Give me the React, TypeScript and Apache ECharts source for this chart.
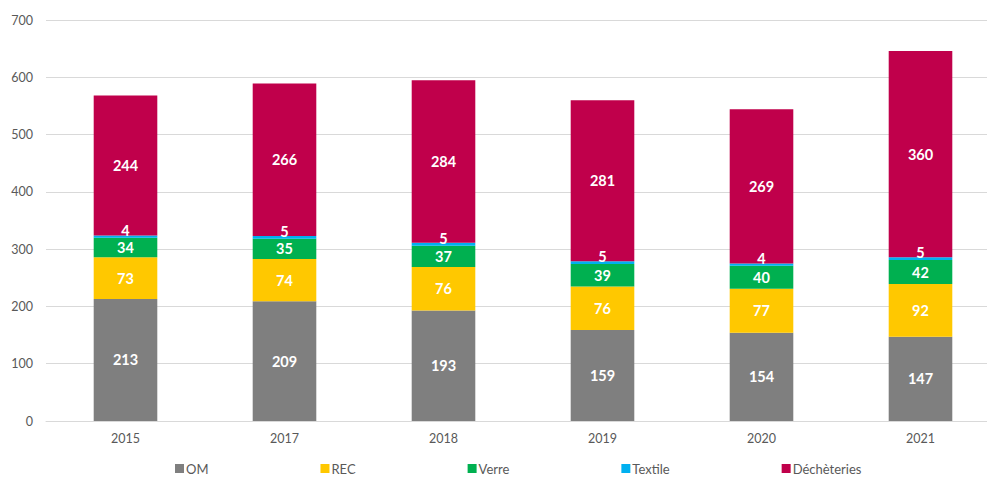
import React, { useEffect, useRef } from "react";
import * as echarts from "echarts";

const years = ["2015", "2017", "2018", "2019", "2020", "2021"];
const om = [213, 209, 193, 159, 154, 147];
const rec = [73, 74, 76, 76, 77, 92];
const verre = [34, 35, 37, 39, 40, 42];
const textile = [4, 5, 5, 5, 4, 5];
const decheteries = [244, 266, 284, 281, 269, 360];

const seriesDefs = [
  { name: "OM", data: om, color: "#7f7f7f" },
  { name: "REC", data: rec, color: "#ffc800" },
  { name: "Verre", data: verre, color: "#00b050" },
  { name: "Textile", data: textile, color: "#00b0f0" },
  { name: "Déchèteries", data: decheteries, color: "#c0004b" },
];

const FONT = "Lato, 'Open Sans', sans-serif";

export default function App() {
  const ref = useRef<HTMLDivElement>(null);
  useEffect(() => {
    if (!ref.current) return;
    const chart = echarts.init(ref.current, undefined, { renderer: "svg" });
    chart.setOption({
      animation: false,
      backgroundColor: "#ffffff",
      textStyle: { fontFamily: FONT },
      grid: { left: 46, right: 0, top: 20, bottom: 58 },
      legend: {
        bottom: -1,
        left: 170,
        width: 820,
        itemWidth: 9,
        itemHeight: 9,
        itemGap: 112,
        icon: "rect",
        textStyle: { color: "#595959", fontSize: 13, fontFamily: FONT, padding: [0, 0, 0, -3] },
        data: seriesDefs.map((s) => s.name),
      },
      xAxis: {
        type: "category",
        data: years,
        axisTick: { show: false },
        axisLine: { lineStyle: { color: "#d9d9d9" } },
        axisLabel: { color: "#595959", fontSize: 12.5, margin: 11, fontFamily: FONT },
      },
      yAxis: {
        type: "value",
        min: 0,
        max: 700,
        interval: 100,
        axisLabel: { color: "#595959", fontSize: 12.5, margin: 13, fontFamily: FONT },
        splitLine: { lineStyle: { color: "#d9d9d9", width: 1 } },
        axisLine: { show: false },
        axisTick: { show: false },
      },
      series: seriesDefs.map((s) => ({
        name: s.name,
        type: "bar",
        stack: "total",
        barWidth: "40%",
        data: s.data,
        itemStyle: { color: s.color },
        label: {
          show: true,
          position: "inside",
          color: "#ffffff",
          fontWeight: "bold",
          fontSize: 14.5,
          fontFamily: FONT,
          offset: s.name === "Textile" ? [0, -6] : [0, 0],
        },
      })),
    });
    return () => chart.dispose();
  }, []);
  return (
    <div style={{ position: "absolute", left: 0, top: 0, width: 987, height: 479, overflow: "hidden", background: "#fff" }}>
      <div ref={ref} style={{ width: 1000, height: 479 }} />
    </div>
  );
}
